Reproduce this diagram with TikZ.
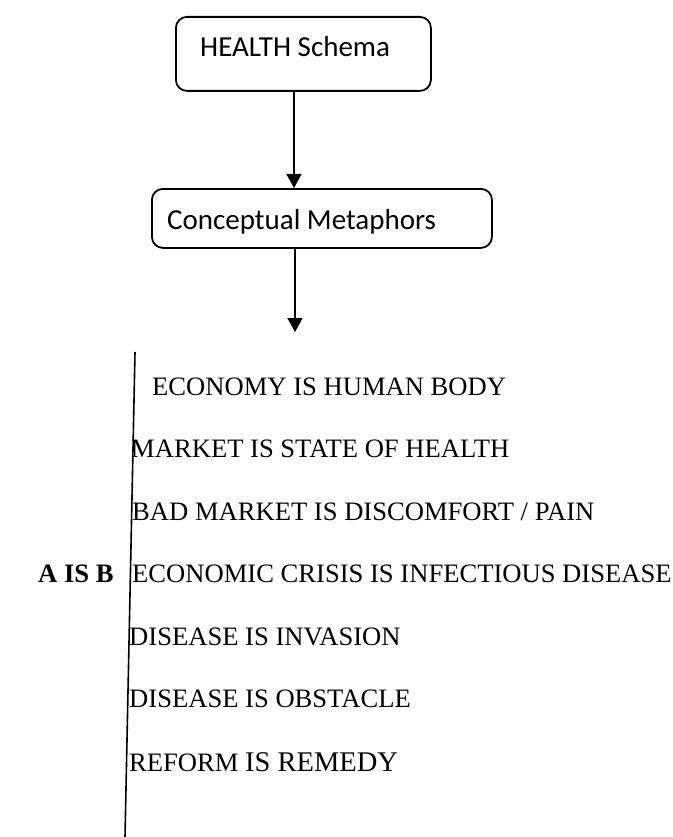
\documentclass[tikz,border=0pt]{standalone}
\usepackage{fontspec}
\setmainfont{Liberation Serif}
\newfontfamily\boxfont{Carlito}
\usetikzlibrary{arrows.meta,calc}

\tikzset{
  schemabox/.style={draw=black, line width=1.8pt, rounded corners=11pt,
    inner sep=0pt, anchor=north west},
  boxlabel/.style={anchor=base west, inner sep=0pt,
    font=\boxfont\fontsize{29}{34}\selectfont},
  flow/.style={line width=1.8pt, -{Triangle[width=15pt,length=14pt]}},
  mapping/.style={anchor=base west, inner sep=0pt,
    font=\fontsize{26.6}{30}\selectfont},
  divider/.style={line width=1.6pt}
}

\begin{document}
\begin{tikzpicture}[x=1pt,y=-1pt]
  \useasboundingbox (0,0) rectangle (672,837);

  % top box and its label
  \node[schemabox, minimum width=255pt, minimum height=74pt] (hs) at (175,16) {};
  \node[boxlabel] (hsText) at ($(hs.north west)+(25,41)$) {HEALTH Schema};

  % second box and its label
  \node[schemabox, minimum width=340pt, minimum height=59pt] (cm) at (151,188) {};
  \node[boxlabel] (cmText) at ($(cm.north west)+(16,41)$) {Conceptual Metaphors};

  % arrows between the boxes
  \coordinate (ax1) at (294,0);
  \coordinate (ax2) at (295,0);
  \coordinate (tip) at (295,332);
  \draw[flow] (hs.south -| ax1) -- (cm.north -| ax1);
  \draw[flow] (cm.south -| ax2) -- (tip);

  % slanted divider
  \coordinate (dtop) at (135,352);
  \coordinate (dbot) at (125,837);
  \draw[divider] (dtop) -- (dbot);

  % left label
  \node[mapping, font=\bfseries\fontsize{26.6}{30}\selectfont] (aisb) at (38,582) {A IS B};

  % list of metaphors
  \node[mapping] (m1) at (152,395) {ECONOMY IS HUMAN BODY};
  \node[mapping] (m2) at (131,457) {MARKET IS STATE OF HEALTH};
  \node[mapping] (m3) at (132,520) {BAD MARKET IS DISCOMFORT / PAIN};
  \node[mapping] (m4) at (132,582) {ECONOMIC CRISIS IS INFECTIOUS DISEASE};
  \node[mapping] (m5) at (129,645) {DISEASE IS INVASION};
  \node[mapping] (m6) at (129,707) {DISEASE IS OBSTACLE};
  \node[mapping] (m7) at (129,771) {REFORM {\fontsize{28.5}{32}\selectfont IS REMEDY}};
\end{tikzpicture}
\end{document}
